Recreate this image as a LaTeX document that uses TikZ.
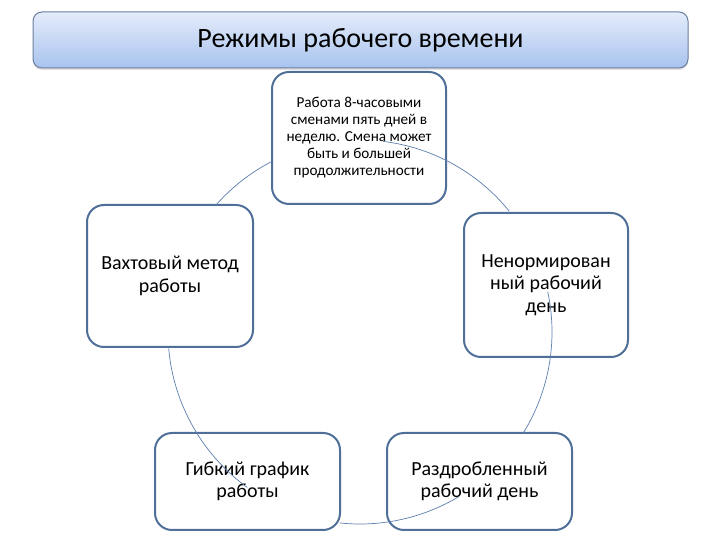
\documentclass[tikz,border=0pt]{standalone}
\usepackage{fontspec}
\setmainfont{Carlito}
\usetikzlibrary{shadows}
\definecolor{boxedge}{HTML}{4F6F99}
\definecolor{ringline}{HTML}{5C7EAE}
\definecolor{headedge}{HTML}{6B7F9E}
\definecolor{headtop}{HTML}{E4ECFA}
\definecolor{headbot}{HTML}{A8C3EF}

\begin{document}
\begin{tikzpicture}[x=1pt, y=1pt, line join=round, line cap=round]
  \tikzset{
    headbox/.style={draw=headedge, line width=1pt, rounded corners=9pt,
      top color=headtop, bottom color=headbot,
      drop shadow={opacity=0.25, shadow xshift=0pt, shadow yshift=-2pt},
      minimum width=655pt, minimum height=56pt, font=\fontsize{28}{32}\selectfont},
    modebox/.style={draw=boxedge, line width=2pt, fill=white, rounded corners=17pt,
      align=center, inner sep=0pt, font=\fontsize{20}{22.5}\selectfont},
    ringline/.style={draw=ringline, line width=0.7pt}
  }
  \useasboundingbox (0,0) rectangle (720,540);
  % circle that the modes sit on
  \coordinate (ring) at (360,208);

  \node[headbox] (title) at (360.5,500) {Режимы рабочего времени};

  \node[modebox, minimum width=174pt, minimum height=132pt,
        font=\fontsize{15.2}{17}\selectfont] (shift8) at (359,402)
        {Работа 8-часовыми\\сменами пять дней в\\неделю. Смена может\\быть и большей\\продолжительности};
  \node[modebox, minimum width=166pt, minimum height=142pt] (rotation) at (170,264)
        {Вахтовый метод\\работы};
  \node[modebox, minimum width=164pt, minimum height=144pt] (irregular) at (546,255)
        {Ненормирован\\ный рабочий\\день};
  \node[modebox, minimum width=185pt, minimum height=97pt] (flexible) at (247.5,58.5)
        {Гибкий график\\работы};
  \node[modebox, minimum width=185pt, minimum height=97pt] (split) at (479.5,58.5)
        {Раздробленный\\рабочий день};

  % arcs from one mode to the next
  \foreach \a/\b in {83/39, 12/-32, -59/-96, 234/185, 139/117}
    \draw[ringline] (ring) ++(\a:192) arc[start angle=\a, end angle=\b, radius=192];
\end{tikzpicture}
\end{document}
